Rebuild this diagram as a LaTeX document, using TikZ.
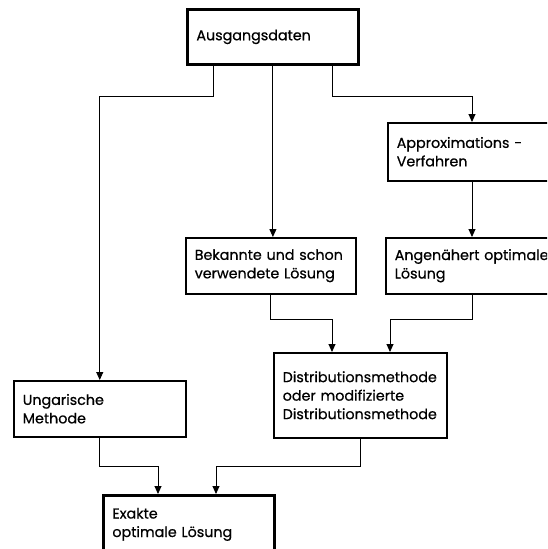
\documentclass[tikz,border=0pt]{standalone}
\usepackage{fontspec}
\setmainfont{Poppins}
\newfontfamily\boxfont[FakeBold=0.6]{Poppins}
\usepackage{tikz}
\usetikzlibrary{arrows.meta}
\usetikzlibrary{calc}
\usetikzlibrary{positioning}

\begin{document}
\begin{tikzpicture}[x=1pt,y=-1pt,->,>={Triangle[length=8pt,width=7pt]},line width=0.9pt]
						\tikzstyle{box}=[draw, line width=1.5pt, rectangle, anchor=north west, inner xsep=9pt, inner ysep=0pt, align=left, font=\boxfont\fontsize{14.3}{18.5}\selectfont, -]
						\tikzstyle{endbox}=[box, line width=2.8pt]
						\useasboundingbox (0,0) rectangle (547,549);
						\clip (0,0) rectangle (547,549);
						\node[endbox, text width=153pt, minimum height=55pt] 	(aus) at (186,8)      {Ausgangsdaten};
						\node[box, text width=182pt, minimum height=58pt] 	(approx) at (387,122) {Approximations -\\Verfahren};
						\node[box, text width=152pt, minimum height=56pt] 	(bek) at (185,237)    {Bekannte und schon\\verwendete Lösung};
						\node[box, text width=182pt, minimum height=56pt] 	(ang) at (385,237)    {Angenähert optimale\\Lösung};
						\node[box, text width=155pt, minimum height=85pt] 	(dist) at (273,352)   {Distributionsmethode\\oder modifizierte\\Distributionsmethode};
						\node[box, text width=154pt, minimum height=56pt] 	(ung) at (13,380)     {Ungarische\\Methode};
						\node[endbox, text width=153pt, minimum height=58pt] 	(exa) at (102,494)    {Exakte\\optimale Lösung};
				  \draw[->] ([xshift=27]aus.south west) -- ++(0,31) -| (ung.north);
				  \draw[->] (aus.south) -- (aus.south |- bek.north);
				  \draw[->] ([xshift=-27]aus.south east) -- ++(0,31) -| ([xshift=85]approx.north west);
				  \draw[->] ([xshift=85]approx.south west) -- ([xshift=87]ang.north west);
				  \draw[->] (bek.south) -- ++(0,25) -| ([xshift=59]dist.north west);
				  \draw[->] ([xshift=87]ang.south west) -- ++(0,25) -| ([xshift=117]dist.north west);
				  \draw[->] (ung.south) -- ++(0,29) -| ([xshift=56]exa.north west);
				  \draw[->] (dist.south) -- ++(0,28) -| ([xshift=114]exa.north west);
				  %\draw[->] (approx) -- (bek);
				\end{tikzpicture}
\end{document}
